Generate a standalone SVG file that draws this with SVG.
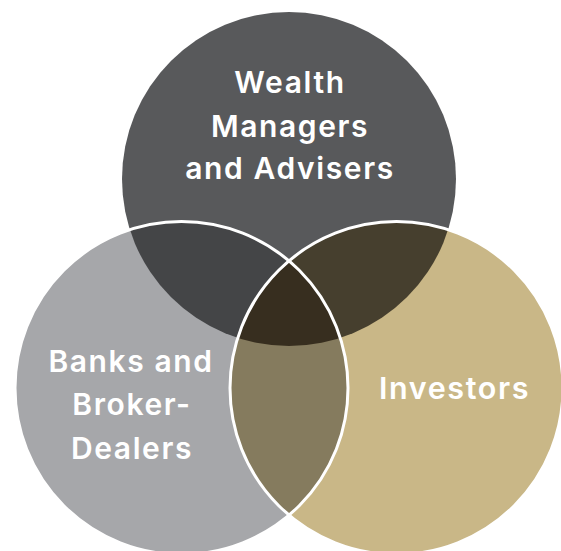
<svg xmlns="http://www.w3.org/2000/svg" width="561" height="551" viewBox="0 0 561 551">
  <style>
    .lbl { font-family: Inter, "Liberation Sans", sans-serif; font-weight: 600; font-size: 30px; letter-spacing: 1.6px; fill: #ffffff; text-anchor: middle; }
    .ring { fill: none; stroke: #ffffff; stroke-width: 3; }
  </style>
  <defs>
    <clipPath id="clipTop"><circle cx="289" cy="179" r="167"/></clipPath>
    <clipPath id="clipLeft"><circle cx="181.5" cy="388" r="166.5"/></clipPath>
    <clipPath id="clipRight"><circle cx="396.5" cy="388" r="166.5"/></clipPath>
  </defs>
  <rect width="561" height="551" fill="#ffffff"/>
  <g id="wealth-managers">
    <circle cx="289" cy="179" r="167" fill="#58595b"/>
  </g>
  <g id="banks-brokers">
    <circle cx="181.5" cy="388" r="166.5" fill="#a6a7aa"/>
  </g>
  <g id="investors">
    <circle cx="396.5" cy="388" r="166.5" fill="#c9b787"/>
  </g>
  <g id="overlaps">
    <circle cx="181.5" cy="388" r="166.5" fill="#444547" clip-path="url(#clipTop)"/>
    <circle cx="396.5" cy="388" r="166.5" fill="#463f2e" clip-path="url(#clipTop)"/>
    <circle cx="396.5" cy="388" r="166.5" fill="#857b5e" clip-path="url(#clipLeft)"/>
    <g clip-path="url(#clipTop)">
      <circle cx="396.5" cy="388" r="166.5" fill="#372e1f" clip-path="url(#clipLeft)"/>
    </g>
  </g>
  <g id="outlines">
    <circle class="ring" cx="181.5" cy="388" r="166.5"/>
    <circle class="ring" cx="396.5" cy="388" r="166.5"/>
  </g>
  <g id="labels">
    <text class="lbl" x="290" y="93">Wealth</text>
    <text class="lbl" x="290" y="136.5">Managers</text>
    <text class="lbl" x="290" y="179">and Advisers</text>
    <text class="lbl" x="131" y="372">Banks and</text>
    <text class="lbl" x="132" y="415">Broker-</text>
    <text class="lbl" x="132" y="458.5">Dealers</text>
    <text class="lbl" x="454.5" y="398.5" style="font-size:30.5px">Investors</text>
  </g>
</svg>
